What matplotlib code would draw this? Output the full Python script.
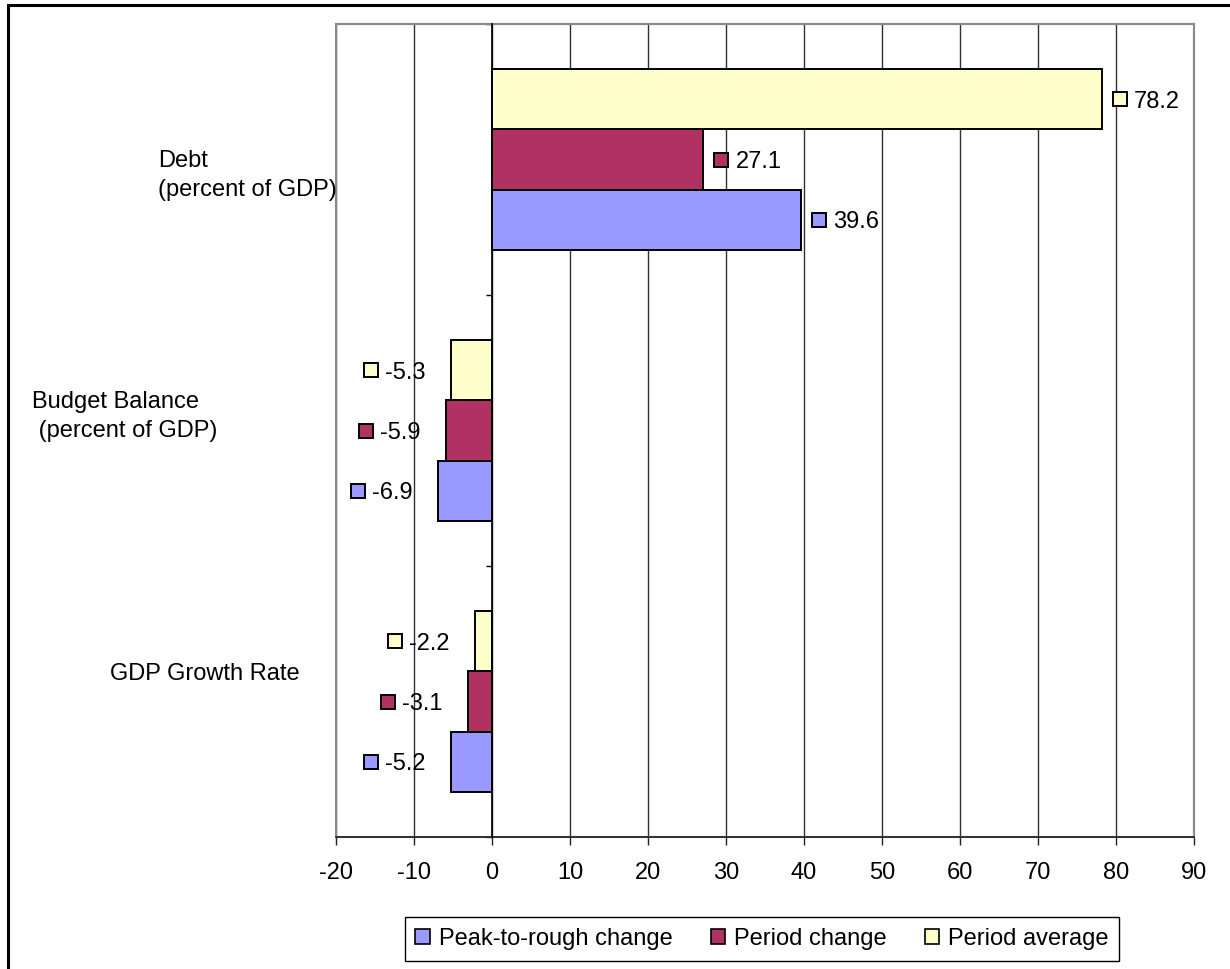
import numpy as np
import matplotlib.pyplot as plt
from matplotlib.patches import Patch, Rectangle
from matplotlib.transforms import ScaledTranslation, blended_transform_factory

plt.rcParams['font.family'] = ['Liberation Sans', 'DejaVu Sans']
plt.rcParams['axes.unicode_minus'] = False

# categories bottom -> top
categories = ["GDP Growth Rate", "Budget Balance\n (percent of GDP)", "Debt\n(percent of GDP)"]
series_names = ["Peak-to-rough change", "Period change", "Period average"]
peak_to_trough = [-5.2, -6.9, 39.6]
period_change = [-3.1, -5.9, 27.1]
period_average = [-2.2, -5.3, 78.2]
colors = ["#9999FF", "#B03262", "#FFFFCC"]

# category label placement (figure px from left, px below band centre)
cat_left_px = [110, 32, 158]
cat_shift_px = [-28, -14, 16]

FS = 17
W, H = 1230, 969

fig = plt.figure(figsize=(W / 100, H / 100), dpi=100)
ax = fig.add_axes([336 / W, 1 - 837 / H, (1194 - 336) / W, (837 - 24) / H])

y = np.arange(len(categories))
h = 0.2222
series = [peak_to_trough, period_change, period_average]

for i, (vals, c) in enumerate(zip(series, colors)):
    yy = y + (i - 1) * h
    ax.barh(yy, vals, height=h, color=c, edgecolor='black', linewidth=1.4, zorder=3)
    # data labels with a legend key in front
    for v, yv in zip(vals, yy):
        sq = 18 if v >= 0 else -80
        off_sq = ScaledTranslation(sq / 100, 0, fig.dpi_scale_trans)
        off_tx = ScaledTranslation((sq + 14) / 100, 0, fig.dpi_scale_trans)
        ax.plot([v], [yv], marker='s', ms=10, mfc=c, mec='black', mew=1.4,
                transform=ax.transData + off_sq, clip_on=False, zorder=5)
        ax.text(v, yv, f"{v:.1f}", transform=ax.transData + off_tx,
                ha='left', va='center_baseline', fontsize=FS, zorder=5)

ax.set_xlim(-20, 90)
ax.set_ylim(-0.5, 2.5)
ax.set_xticks(np.arange(-20, 91, 10))
ax.set_yticks([-0.5, 0.5, 1.5, 2.5])
ax.set_yticklabels([])

ax.xaxis.grid(True, color='#303030', linewidth=1.0)
ax.set_axisbelow(True)

ax.spines['left'].set_position(('data', 0))
ax.spines['left'].set_color('black')
ax.spines['left'].set_linewidth(1.2)
ax.spines['left'].set_zorder(4)
for s in ['top', 'right']:
    ax.spines[s].set_color('#8a8a8a')
    ax.spines[s].set_linewidth(1.5)
ax.spines['bottom'].set_color('#222222')
ax.spines['bottom'].set_linewidth(1.2)
ax.add_patch(Rectangle((0, 0), 1, 1, transform=ax.transAxes, fill=False,
                       edgecolor='#8a8a8a', linewidth=1.5, zorder=1, clip_on=False))

ax.tick_params(axis='x', direction='out', length=6, width=1, pad=12,
               labelsize=FS, color='#222222')
ax.tick_params(axis='y', direction='out', length=4, width=1, color='black')

# category names
trans = blended_transform_factory(fig.transFigure, ax.transData)
band_px = (837 - 24) / 3
for name, yc, lx, dy in zip(categories, y, cat_left_px, cat_shift_px):
    fig.text(lx / W, yc - dy / band_px, name, transform=trans,
             ha='left', va='center', fontsize=FS, linespacing=1.45)

handles = [Patch(facecolor=c, edgecolor='black', linewidth=1.2) for c in colors]
leg = fig.legend(handles, series_names, loc='center', bbox_to_anchor=(762 / W, 1 - 939 / H),
                 ncol=3, frameon=True, fancybox=False, edgecolor='black', framealpha=1,
                 fontsize=FS, handlelength=0.6, handleheight=0.6, handletextpad=0.4,
                 columnspacing=1.6, borderpad=0.45, borderaxespad=0)
leg.get_frame().set_linewidth(1.0)

# outer chart border
fig.add_artist(Rectangle((8 / W, -0.1), 1.5, 1.1 - 5 / H, transform=fig.transFigure,
                         fill=False, edgecolor='black', linewidth=2.2))

fig.savefig('out.png', dpi=100)
